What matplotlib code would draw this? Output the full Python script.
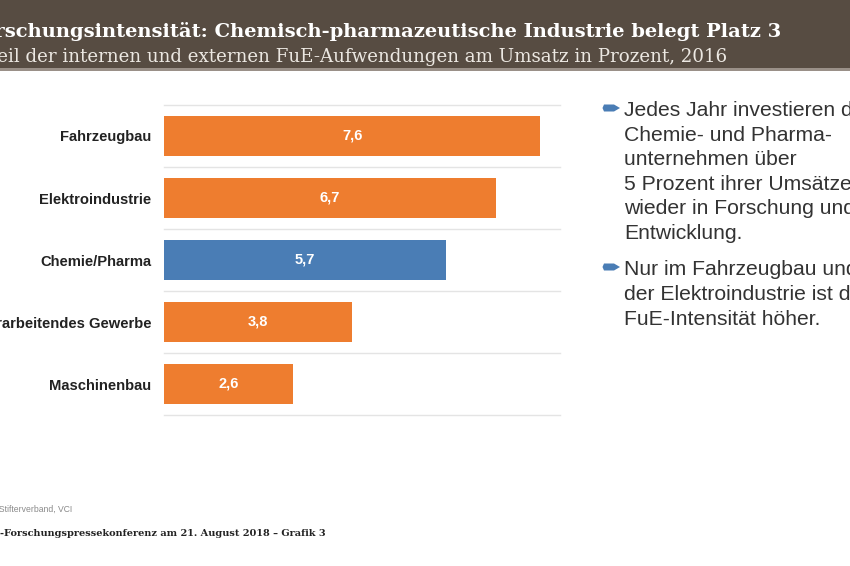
import matplotlib.pyplot as plt
from matplotlib.patches import Rectangle, Polygon

# data
categories = ['Fahrzeugbau', 'Elektroindustrie', 'Chemie/Pharma',
              'Verarbeitendes Gewerbe', 'Maschinenbau']
values = [7.6, 6.7, 5.7, 3.8, 2.6]
highlight = 'Chemie/Pharma'

title = 'Forschungsintensität: Chemisch-pharmazeutische Industrie belegt Platz 3'
subtitle = 'Anteil der internen und externen FuE-Aufwendungen am Umsatz in Prozent, 2016'
bullets = [
    ['Jedes Jahr investieren die', 'Chemie- und Pharma-', 'unternehmen über',
     '5 Prozent ihrer Umsätze', 'wieder in Forschung und', 'Entwicklung.'],
    ['Nur im Fahrzeugbau und', 'der Elektroindustrie ist die', 'FuE-Intensität höher.'],
]
source = 'Quelle: Stifterverband, VCI'
footer = 'VCI-Forschungspressekonferenz am 21. August 2018 – Grafik 3'

ORANGE = '#ee7d2f'
BLUE = '#4a7db5'
W, H = 850, 566

plt.rcParams['font.family'] = ['Liberation Sans', 'DejaVu Sans']
fig = plt.figure(figsize=(8.5, 5.66), dpi=100)
fig.patch.set_facecolor('white')


def px(x, y):
    return x / W, 1 - y / H


# header band
fig.patches.append(Rectangle(px(0, 68), 1, 68 / H, transform=fig.transFigure,
                             facecolor='#574c42', edgecolor='none', zorder=0))
fig.patches.append(Rectangle(px(0, 71), 1, 3 / H, transform=fig.transFigure,
                             facecolor='#9a9088', edgecolor='none', zorder=0))
fig.text(*px(781, 37), title, ha='right', va='baseline', color='white',
         fontsize=14, fontweight='bold', family=['DejaVu Serif'])
fig.text(*px(727, 62), subtitle, ha='right', va='baseline', color='#ece8e2',
         fontsize=13.15, family=['DejaVu Serif'])

# bar chart
ax = fig.add_axes([164 / W, 1 - 415 / H, 396 / W, 310 / H])
ypos = list(range(len(categories)))
colors = [BLUE if c == highlight else ORANGE for c in categories]
bars = ax.barh(ypos, values, height=0.66, color=colors, zorder=2)
ax.set_xlim(0, 8)
ax.set_ylim(len(categories) - 0.5, -0.5)
for b, v in zip(bars, values):
    ax.text(b.get_width() / 2, b.get_y() + b.get_height() / 2,
            f'{v:.1f}'.replace('.', ','), ha='center', va='center',
            color='white', fontsize=10.5, fontweight='bold')
for y in [p - 0.5 for p in ypos] + [len(categories) - 0.5]:
    ax.axhline(y, color='#e4e4e4', lw=1, zorder=1, clip_on=False)
ax.set_yticks(ypos)
ax.set_yticklabels(categories, fontsize=10.6, fontweight='bold', color='#222222')
ax.tick_params(axis='y', length=0, pad=9)
ax.set_xticks([])
for s in ax.spines.values():
    s.set_visible(False)

# bullet text
line_y = [[116, 141, 165, 190, 214, 239], [275, 300, 325]]
for lines, ys in zip(bullets, line_y):
    yb = ys[0] - 8
    arrow = [(604, yb - 3.5), (614, yb - 3.5), (620, yb), (614, yb + 3.5),
             (604, yb + 3.5), (602.5, yb)]
    fig.patches.append(Polygon([px(x, y) for x, y in arrow], closed=True,
                               transform=fig.transFigure, facecolor=BLUE,
                               edgecolor='none'))
    for t, y in zip(lines, ys):
        fig.text(*px(624, y), t, ha='left', va='baseline', color='#333333',
                 fontsize=15.2)

# footer
fig.text(*px(72, 509), source, ha='right', va='center', color='#8a8a8a',
         fontsize=6.2)
fig.text(*px(326, 534), footer, ha='right', va='center', color='#222222',
         fontsize=7.0, fontweight='bold', family=['DejaVu Serif'])

fig.savefig('out.png', dpi=100)
